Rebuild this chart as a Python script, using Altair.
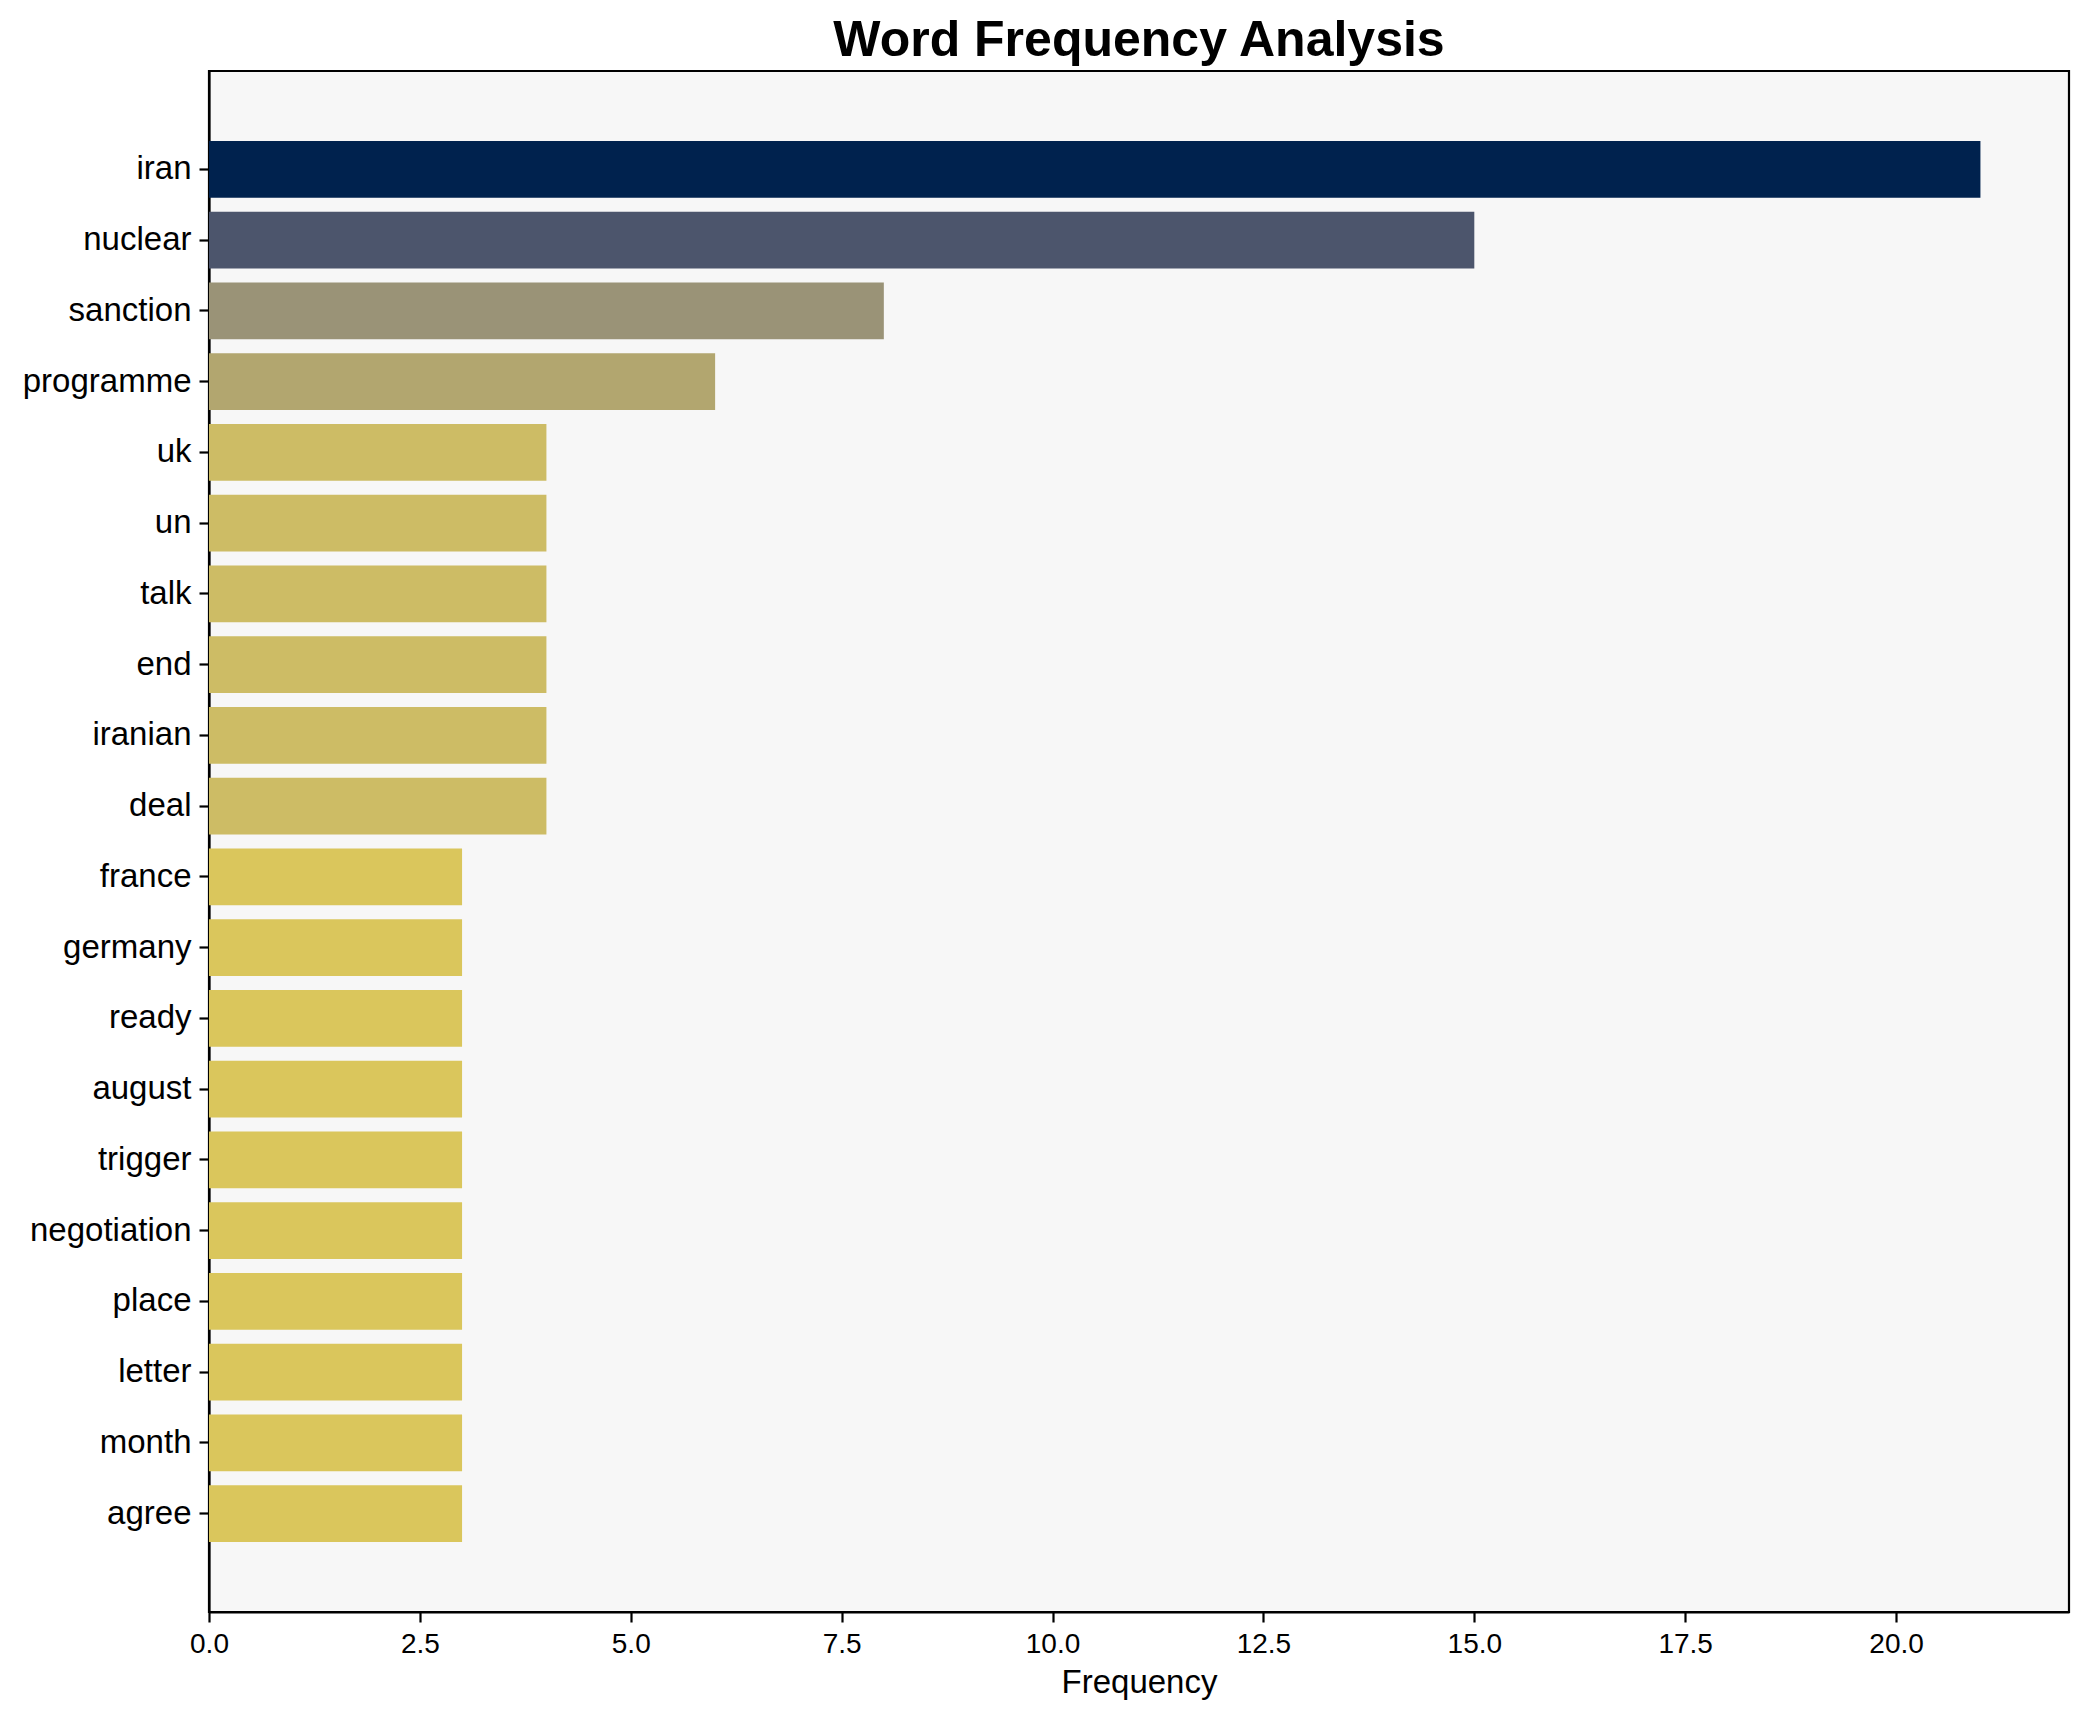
import altair as alt
import pandas as pd

words = ["iran", "nuclear", "sanction", "programme", "uk", "un", "talk", "end",
         "iranian", "deal", "france", "germany", "ready", "august", "trigger",
         "negotiation", "place", "letter", "month", "agree"]
freqs = [21, 15, 8, 6, 4, 4, 4, 4, 4, 4, 3, 3, 3, 3, 3, 3, 3, 3, 3, 3]
colors = ["#00224e", "#4c556c", "#9a9377", "#b2a66f",
          "#cdbc65", "#cdbc65", "#cdbc65", "#cdbc65", "#cdbc65", "#cdbc65",
          "#dac65c", "#dac65c", "#dac65c", "#dac65c", "#dac65c",
          "#dac65c", "#dac65c", "#dac65c", "#dac65c", "#dac65c"]
x_ticks = [0, 2.5, 5, 7.5, 10, 12.5, 15, 17.5, 20]

df = pd.DataFrame({"word": words, "freq": freqs})
FONT = "Liberation Sans"

chart = alt.Chart(df).mark_bar().encode(
    x=alt.X("freq:Q",
            scale=alt.Scale(domain=[0, 22.05], nice=False, zero=True),
            axis=alt.Axis(values=x_ticks, format=".1f", title="Frequency",
                          labelFontSize=28, titleFontSize=33, titleFontWeight="normal",
                          labelColor="black", titleColor="black",
                          tickSize=10, tickWidth=2.2, tickColor="black",
                          domainColor="black", domainWidth=2.2,
                          labelPadding=8, titlePadding=8, grid=False,
                          labelFont=FONT, titleFont=FONT, labelFlush=False)),
    y=alt.Y("word:N", sort=words,
            scale=alt.Scale(paddingInner=0.2, paddingOuter=0.99),
            axis=alt.Axis(title=None, labelFontSize=33, labelColor="black",
                          tickSize=10, tickWidth=2.2, tickColor="black",
                          domainColor="black", domainWidth=2.2,
                          labelPadding=8, labelFont=FONT, grid=False)),
    color=alt.Color("word:N", scale=alt.Scale(domain=words, range=colors), legend=None),
).properties(
    width=1860,
    height=1541,
    background="white",
    title=alt.TitleParams("Word Frequency Analysis", fontSize=50, fontWeight="bold",
                          font=FONT, color="black", anchor="middle", offset=5),
    autosize=alt.AutoSizeParams(type="none"),
    padding={"left": 201, "top": 63, "right": 13, "bottom": 103},
).configure_view(
    fill="#f7f7f7", stroke="black", strokeWidth=2.2
)

chart.save("out.html", embed_options={"renderer": "svg", "actions": False})
